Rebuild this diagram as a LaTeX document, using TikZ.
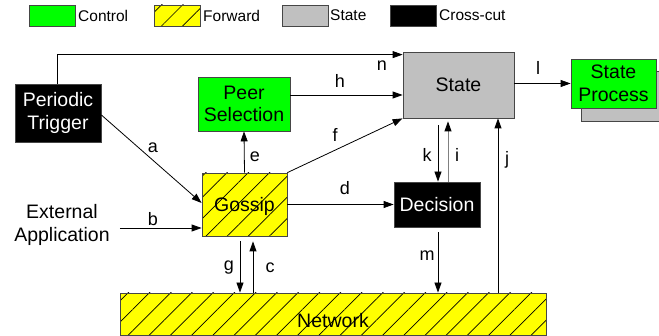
\documentclass[tikz,border=0pt]{standalone}
\usepackage{fontspec}
\setmainfont{Liberation Sans}
\usetikzlibrary{patterns.meta,calc,arrows.meta}
\definecolor{ctrl}{RGB}{0,255,0}
\definecolor{fwd}{RGB}{255,255,0}
\definecolor{stategray}{RGB}{192,192,192}
\definecolor{edgec}{RGB}{70,70,70}
\tikzset{
 box/.style={draw=edgec, line width=0.8pt, inner sep=1pt, align=center, font=\fontsize{19.5}{22.5}\selectfont},
 ctrlbox/.style={box, fill=ctrl},
 fwdbox/.style={box, preaction={fill=fwd}, pattern={Lines[angle=45,distance=15pt,line width=0.7pt]}},
 statebox/.style={box, fill=stategray},
 cutbox/.style={box, fill=black, text=white},
 legbox/.style={minimum width=46pt, minimum height=21pt},
 legtext/.style={anchor=west, inner sep=1pt, font=\fontsize{15.5}{18}\selectfont},
 arr/.style={line width=0.8pt, -{Triangle[length=10pt,width=7pt]}},
 lbl/.style={inner sep=0pt, font=\fontsize{18}{20}\selectfont},
}
\begin{document}
\begin{tikzpicture}[x=1pt,y=-1pt]
\useasboundingbox (0,0) rectangle (659,336);
% legend
\node[ctrlbox, legbox] (l1) at (52,15.5) {};
\node[legtext] (t1) at (77,15.5) {Control};
\node[fwdbox, legbox] (l2) at (177.5,15.5) {};
\node[legtext] (t2) at (202,15.5) {Forward};
\node[statebox, legbox] (l3) at (305,15.5) {};
\node[legtext] (t3) at (329,15.5) {State};
\node[cutbox, legbox] (l4) at (413,15.5) {};
\node[legtext] (t4) at (438,15.5) {Cross-cut};
% nodes
\node[cutbox, minimum width=86pt, minimum height=58pt] (pt) at (58,113) {Periodic\\Trigger};
\node[ctrlbox, minimum width=92pt, minimum height=54pt] (peer) at (244,104) {Peer\\Selection};
\node[fwdbox, minimum width=85pt, minimum height=63pt,
  label={[font=\fontsize{19.5}{22.5}\selectfont, inner sep=0pt, yshift=-2pt]center:Gossip}] (gossip) at (244.5,204.5) {};
\node[statebox, minimum width=111pt, minimum height=66pt] (state) at (458.5,85) {State};
\node[statebox, minimum width=78pt, minimum height=50pt] (spshadow) at (620,96) {};
\node[ctrlbox, minimum width=85pt, minimum height=49pt] (sp) at (613.5,83.5) {State\\Process};
\node[cutbox, minimum width=86pt, minimum height=45pt] (decision) at (437,204.5) {Decision};
\node[fwdbox, minimum width=426pt, minimum height=42pt,
  label={[font=\fontsize{19.5}{22.5}\selectfont, inner sep=0pt, yshift=-7pt]center:Network}] (net) at (333,314) {};
\node[align=center, inner sep=0pt, font=\fontsize{19.5}{22.5}\selectfont] (ext) at (62,225) {External\\Application};
% connectors
\draw[arr] ($(pt.north)+(-1,0)$) |- ($(state.north west)+(0,3)$);
\node[lbl] (ln) at (382,66) {n};
\draw[arr] (peer.east |- 0,95) -- (state.west |- 0,95);
\node[lbl] (lh) at (340,81) {h};
\draw[arr] (gossip.north east) -- (state.south west);
\node[lbl] (lf) at (335,135) {f};
\draw[arr] ($(pt.east)+(0,2)$) -- (gossip.west |- 0,203);
\node[lbl] (la) at (153,148) {a};
\draw[arr] (gossip.north) -- (peer.south);
\node[lbl] (le) at (255,157) {e};
\draw[arr] ($(ext.east |- 0,228)+(10,0)$) -- (gossip.west |- 0,228);
\node[lbl] (lb) at (153,219) {b};
\draw[arr] (gossip.east) -- (decision.west);
\node[lbl] (ld) at (345,188) {d};
\coordinate (gx) at ($(gossip.south)+(-4.5,5)$);
\draw[arr] (gx) -- (gx |- net.north);
\node[lbl] (lg) at (229,268) {g};
\coordinate (cx) at ($(gossip.south)+(8.5,5)$);
\draw[arr] (cx |- net.north) -- (cx);
\node[lbl] (lc) at (270,268) {c};
\coordinate (kx) at ($(state.south)+(-20.5,7)$);
\draw[arr] (kx) -- (kx |- decision.north);
\node[lbl] (lk) at (427,155) {k};
\coordinate (ix) at ($(state.south)+(-10.5,3)$);
\draw[line width=0.8pt, draw=gray, -{Triangle[length=10pt,width=7pt,color=black]}] (ix |- decision.north) -- (ix);
\node[lbl] (li) at (457,155) {i};
\coordinate (jx) at ($(state.south)+(39.5,0)$);
\draw[arr] (net.north -| jx) -- (jx);
\node[lbl] (lj) at (507,160) {j};
\coordinate (mx) at ($(decision.south)+(1,5)$);
\draw[arr] (mx) -- (mx |- net.north);
\node[lbl] (lm) at (427,256) {m};
\draw[arr] (state.east |- sp.west) -- (sp.west);
\node[lbl] (ll) at (538,68) {l};
\end{tikzpicture}
\end{document}
